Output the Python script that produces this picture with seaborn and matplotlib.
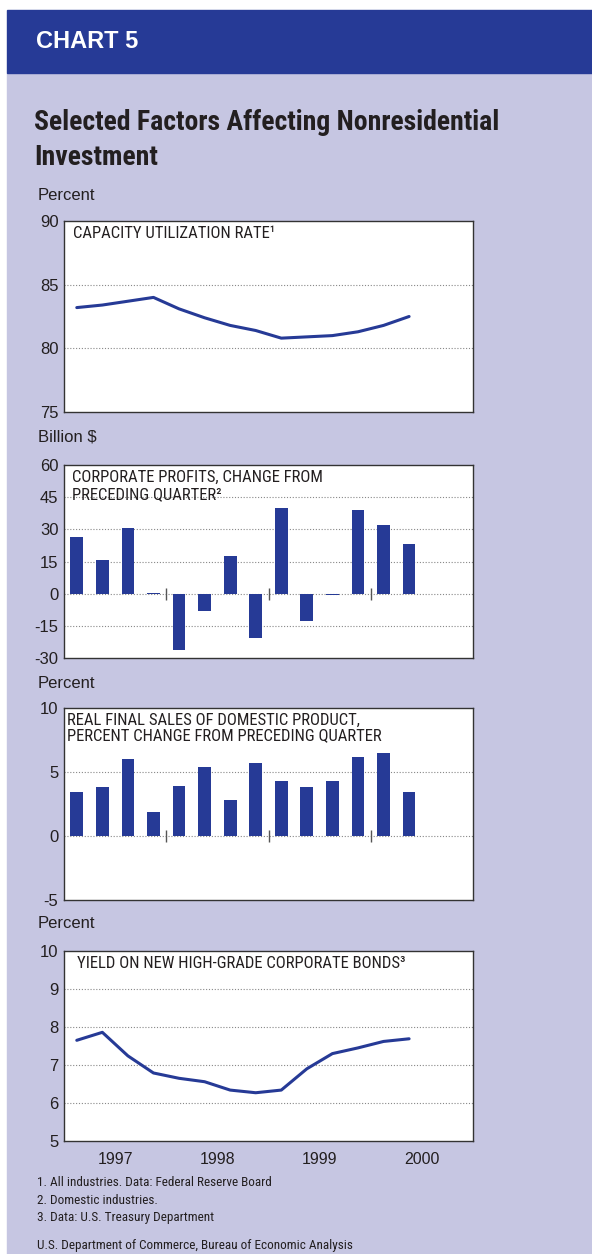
import numpy as np
import pandas as pd
import matplotlib
matplotlib.use("Agg")
import matplotlib.pyplot as plt
import seaborn as sns
from matplotlib.patches import Rectangle

# ---- data (quarterly, 1997Q1 - 2000Q2) ----
QUARTERS = ["1997Q1", "1997Q2", "1997Q3", "1997Q4",
            "1998Q1", "1998Q2", "1998Q3", "1998Q4",
            "1999Q1", "1999Q2", "1999Q3", "1999Q4",
            "2000Q1", "2000Q2"]
YEARS = [1997, 1998, 1999, 2000]
capacity = [83.2, 83.4, 83.7, 84.0, 83.1, 82.4, 81.8, 81.4, 80.8, 80.9, 81.0, 81.3, 81.8, 82.5]
profits = [26.5, 15.5, 30.5, 0.3, -26.5, -8.2, 17.5, -20.8, 40.0, -12.8, -0.7, 39.0, 32.0, 23.0]
sales = [3.4, 3.8, 6.0, 1.9, 3.9, 5.4, 2.8, 5.7, 4.3, 3.8, 4.3, 6.2, 6.5, 3.4]
yields = [7.65, 7.86, 7.24, 6.79, 6.65, 6.56, 6.34, 6.27, 6.34, 6.90, 7.30, 7.45, 7.62, 7.69]

BLUE = "#263a96"
LAV = "#c6c6e2"
INK = "#231f20"
W, H = 592, 1254

def qpos(q):
    # place a quarter at its middle on a continuous year axis
    return int(q[:4]) + (int(q[-1]) - 1) / 4 + 0.125

df = pd.DataFrame({"q": QUARTERS, "capacity": capacity, "profits": profits,
                   "sales": sales, "yields": yields})
df["pos"] = df["q"].map(qpos)

sns.set_theme(style="white")
plt.rcParams["font.family"] = ["Liberation Sans", "DejaVu Sans"]
NARROW = ["Roboto Condensed", "Archivo Narrow", "Liberation Sans", "DejaVu Sans"]

fig = plt.figure(figsize=(W / 100, H / 100), dpi=100)
fig.patch.set_facecolor("white")

def fx(x): return x / W
def fy(y): return 1 - y / H

# background and header band
fig.patches.append(Rectangle((fx(7), 0), 1 - fx(7), fy(73), transform=fig.transFigure,
                             color=LAV, zorder=-10))
fig.patches.append(Rectangle((fx(7), fy(73)), 1 - fx(7), fy(10) - fy(73),
                             transform=fig.transFigure, color=BLUE, zorder=-10))
fig.text(fx(36), fy(42), "CHART 5", color="white", fontsize=17, fontweight="bold",
         va="center", ha="left")
fig.text(fx(34), fy(140), "Selected Factors Affecting Nonresidential\nInvestment",
         family=NARROW, fontsize=20, fontweight="bold", color=INK,
         va="center", ha="left", linespacing=1.35)

def make_ax(top, bottom, ylim, yticks, grid, unit, unit_y):
    ax = fig.add_axes([fx(64), fy(bottom), fx(473) - fx(64), fy(top) - fy(bottom)])
    ax.set_facecolor("white")
    ax.set_ylim(*ylim)
    ax.set_yticks(yticks)
    ax.set_yticklabels([str(t) for t in yticks])
    ax.tick_params(axis="y", length=0, pad=4, labelsize=12, labelcolor=INK)
    ax.tick_params(axis="x", direction="in", length=9.5, width=1, color="#555555")
    for g in grid:
        ax.axhline(g, color="#888888", lw=0.8, ls=(0, (1, 1.6)), zorder=0.5)
    for sp in ax.spines.values():
        sp.set_color("#333333")
        sp.set_linewidth(1.0)
        sp.set_visible(True)
    fig.text(fx(38), fy(unit_y), unit, fontsize=12, color=INK, va="center", ha="left")
    return ax

def zero_marks(ax):
    ax.plot(YEARS[1:], [0] * 3, ls="none", marker="|", ms=9, mew=1, color="#555555", zorder=3)

def tidy(ax):
    ax.set_xlim(1997, 2001)
    ax.set_xlabel("")
    ax.set_ylabel("")
    ax.set_xticks(YEARS[1:])
    ax.set_xticklabels([])

def panel_title(ax, x, s, ls=1.15):
    ax.text(x, 0.975, s, transform=ax.transAxes, family=NARROW, fontsize=12,
            va="top", ha="left", color=INK, linespacing=ls)

# panel 1: capacity utilization
ax1 = make_ax(221, 412, (75, 90), [75, 80, 85, 90], [80, 85], "Percent", 195)
sns.lineplot(data=df, x="pos", y="capacity", color=BLUE, lw=2.2, ax=ax1)
tidy(ax1)
panel_title(ax1, 0.022, "CAPACITY UTILIZATION RATE\u00b9")

# panel 2: corporate profits
ax2 = make_ax(465, 658, (-30, 60), [-30, -15, 0, 15, 30, 45, 60], [-15, 0, 15, 30, 45],
              "Billion $", 437)
sns.barplot(data=df, x="pos", y="profits", native_scale=True, width=0.5, color=BLUE,
            saturation=1, errorbar=None, linewidth=0, ax=ax2)
tidy(ax2)
zero_marks(ax2)
panel_title(ax2, 0.02, "CORPORATE PROFITS, CHANGE FROM\nPRECEDING QUARTER\u00b2", 1.2)

# panel 3: real final sales
ax3 = make_ax(708, 900, (-5, 10), [-5, 0, 5, 10], [0, 5], "Percent", 683)
sns.barplot(data=df, x="pos", y="sales", native_scale=True, width=0.5, color=BLUE,
            saturation=1, errorbar=None, linewidth=0, ax=ax3)
tidy(ax3)
zero_marks(ax3)
panel_title(ax3, 0.008, "REAL FINAL SALES OF DOMESTIC PRODUCT,\nPERCENT CHANGE FROM PRECEDING QUARTER", 1.02)

# panel 4: bond yields
ax4 = make_ax(951, 1141, (5, 10), [5, 6, 7, 8, 9, 10], [6, 7, 8, 9], "Percent", 924)
sns.lineplot(data=df, x="pos", y="yields", color=BLUE, lw=2.2, ax=ax4)
tidy(ax4)
ax4.set_xticks([y + 0.5 for y in YEARS], minor=True)
ax4.set_xticklabels([str(y) for y in YEARS], minor=True)
ax4.tick_params(axis="x", which="minor", length=0, pad=8, labelsize=11.5, labelcolor=INK)
panel_title(ax4, 0.032, "YIELD ON NEW HIGH-GRADE CORPORATE BONDS\u00b3")

# footnotes
notes = ["1. All industries. Data: Federal Reserve Board",
         "2. Domestic industries.",
         "3. Data: U.S. Treasury Department"]
for i, n in enumerate(notes):
    fig.text(fx(37), fy(1183 + 17.5 * i), n, family=NARROW, fontsize=9.5,
             va="center", ha="left", color=INK)
fig.text(fx(37), fy(1246), "U.S. Department of Commerce, Bureau of Economic Analysis",
         family=NARROW, fontsize=9.5, va="center", ha="left", color=INK)

fig.savefig("out.png", dpi=100)
